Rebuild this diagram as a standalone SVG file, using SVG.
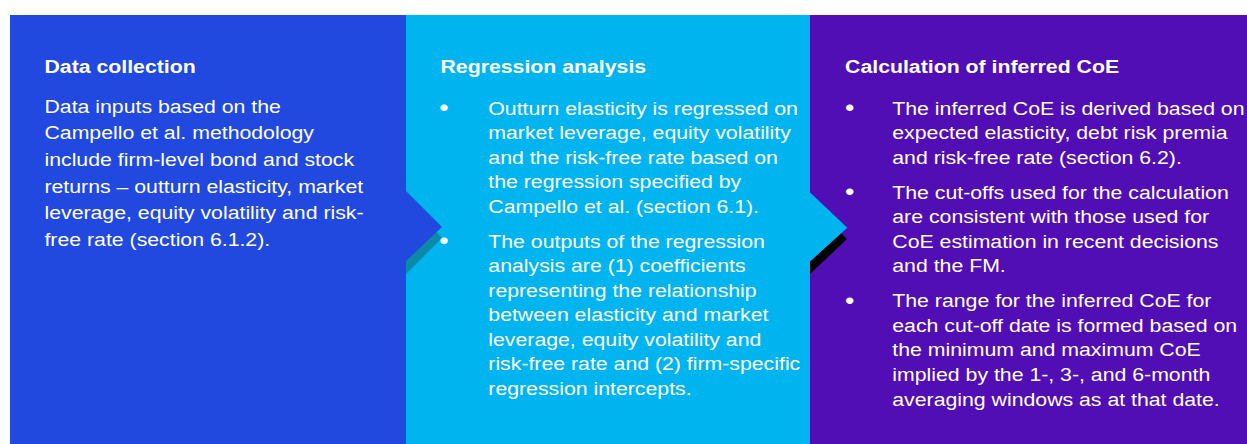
<svg xmlns="http://www.w3.org/2000/svg" width="1247" height="444" viewBox="0 0 1247 444">
<style>
.t{font-family:"Liberation Sans",Arial,sans-serif;font-size:19px;fill:#ffffff}
.b{font-weight:bold}
.d{font-family:"Liberation Sans",Arial,sans-serif;font-size:24px;fill:#ffffff}
</style>
<rect width="1247" height="444" fill="#ffffff"/>
<g id="panel-regression">
<rect x="406" y="15" width="404" height="429" fill="#00B5EF"/>
</g>
<g id="panel-calculation">
<rect x="810" y="15" width="437" height="429" fill="#510EB5"/>
</g>
<g id="connectors">
<polygon points="406,201 442,238 406,274" fill="#0A8AA6"/>
<polygon points="810,203 847,239 810,274" fill="#000000"/>
</g>
<g id="panel-data">
<rect x="10" y="15" width="396" height="429" fill="#2149E0"/>
<polygon points="405,190 442,227 405,262" fill="#2149E0"/>
</g>
<g id="arrow-2">
<polygon points="809,191.5 847.3,227.7 809,262.5" fill="#00B5EF"/>
</g>
<g transform="scale(1.12,1)">
<g id="text-data">
<text class="t b" x="39.7" y="73.5">Data collection</text>
<text class="t" x="39.7" y="112.7">Data inputs based on the</text>
<text class="t" x="39.7" y="139.4">Campello et al. methodology</text>
<text class="t" x="39.7" y="166">include firm-level bond and stock</text>
<text class="t" x="39.7" y="192.7">returns – outturn elasticity, market</text>
<text class="t" x="39.7" y="219.4">leverage, equity volatility and risk-</text>
<text class="t" x="39.7" y="246">free rate (section 6.1.2).</text>
</g>
<g id="text-regression">
<text class="t b" x="393.3" y="73.5">Regression analysis</text>
<text class="d" x="392.2" y="116.5">•</text>
<text class="t" x="436" y="115">Outturn elasticity is regressed on</text>
<text class="t" x="436" y="139.4">market leverage, equity volatility</text>
<text class="t" x="436" y="163.8">and the risk-free rate based on</text>
<text class="t" x="436" y="188.2">the regression specified by</text>
<text class="t" x="436" y="212.6">Campello et al. (section 6.1).</text>
<text class="d" x="392.2" y="249.2">•</text>
<text class="t" x="436" y="247.7">The outputs of the regression</text>
<text class="t" x="436" y="272.2">analysis are (1) coefficients</text>
<text class="t" x="436" y="296.7">representing the relationship</text>
<text class="t" x="436" y="321.2">between elasticity and market</text>
<text class="t" x="436" y="345.7">leverage, equity volatility and</text>
<text class="t" x="436" y="370.2">risk-free rate and (2) firm-specific</text>
<text class="t" x="436" y="394.7">regression intercepts.</text>
</g>
<g id="text-calculation">
<text class="t b" x="754.5" y="73.5">Calculation of inferred CoE</text>
<text class="d" x="754.5" y="116.5">•</text>
<text class="t" x="796.7" y="115">The inferred CoE is derived based on</text>
<text class="t" x="796.7" y="139.4">expected elasticity, debt risk premia</text>
<text class="t" x="796.7" y="163.8">and risk-free rate (section 6.2).</text>
<text class="d" x="754.5" y="200.5">•</text>
<text class="t" x="796.7" y="199">The cut-offs used for the calculation</text>
<text class="t" x="796.7" y="223.5">are consistent with those used for</text>
<text class="t" x="796.7" y="248">CoE estimation in recent decisions</text>
<text class="t" x="796.7" y="272.3">and the FM.</text>
<text class="d" x="754.5" y="308.8">•</text>
<text class="t" x="796.7" y="307.3">The range for the inferred CoE for</text>
<text class="t" x="796.7" y="331.9">each cut-off date is formed based on</text>
<text class="t" x="796.7" y="356.5">the minimum and maximum CoE</text>
<text class="t" x="796.7" y="381.1">implied by the 1-, 3-, and 6-month</text>
<text class="t" x="796.7" y="405.7">averaging windows as at that date.</text>
</g>
</g>
</svg>
